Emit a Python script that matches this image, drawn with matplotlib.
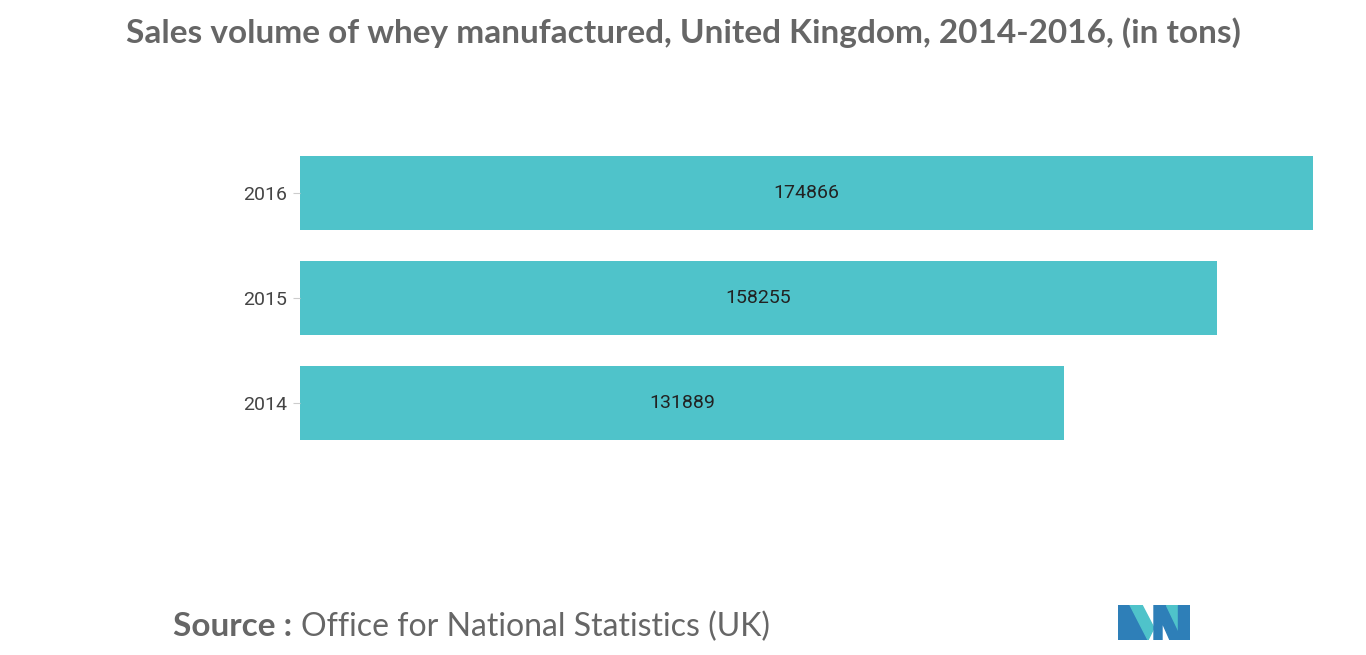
import matplotlib
matplotlib.use('Agg')
import matplotlib.pyplot as plt
from matplotlib.patches import Polygon

years = ['2014', '2015', '2016']
volumes = [131889, 158255, 174866]

bar_color = '#4FC3CA'
grey = '#666666'

fig = plt.figure(figsize=(13.66, 6.55), dpi=100)
W, H = 1366, 655

ax = fig.add_axes([300 / W, 1 - 455.5 / H, 1013 / W, 315 / H])
ypos = range(len(years))
ax.barh(ypos, volumes, height=0.7, color=bar_color)
for y, v in zip(ypos, volumes):
    ax.text(v / 2, y, str(v), ha='center', va='center', fontsize=14,
            color='#222222', family='Roboto')
ax.set_xlim(0, max(volumes))
ax.set_ylim(-0.5, 2.5)
ax.set_yticks(list(ypos))
ax.set_yticklabels(years, fontsize=14, color='#444444', family='Roboto')
ax.tick_params(axis='y', length=5, color='#cccccc', pad=4)
ax.set_xticks([])
for s in ax.spines.values():
    s.set_visible(False)

fig.text(683 / W, 1 - 33 / H,
         'Sales volume of whey manufactured, United Kingdom, 2014-2016, (in tons)',
         ha='center', va='center', fontsize=24, fontweight='bold', color=grey,
         family='Lato')

fig.text(173 / W, 1 - 627 / H, 'Source :', ha='left', va='center', fontsize=24,
         fontweight='bold', color=grey, family='Lato')
fig.text(301 / W, 1 - 627 / H, 'Office for National Statistics (UK)', ha='left',
         va='center', fontsize=23, color=grey, family='Lato')

# logo
lax = fig.add_axes([1118 / W, 1 - 640 / H, 72 / W, 35 / H])
lax.set_xlim(0, 72)
lax.set_ylim(0, 35)
lax.axis('off')
lax.add_patch(Polygon([(0, 0), (0, 35), (12, 35), (30, 0)], color='#2E7FB8'))
lax.add_patch(Polygon([(12, 35), (24, 35), (36, 12), (30, 0)], color=bar_color))
lax.add_patch(Polygon([(36, 0), (36, 35), (48, 35), (60, 10), (60, 0), (52, 0), (44, 18), (44, 0)], color='#2E7FB8'))
lax.add_patch(Polygon([(48, 35), (60, 35), (60, 10)], color=bar_color))
lax.add_patch(Polygon([(60, 0), (72, 0), (72, 35), (60, 35)], color='#2E7FB8'))

fig.savefig('out.png', dpi=100, facecolor='white')
